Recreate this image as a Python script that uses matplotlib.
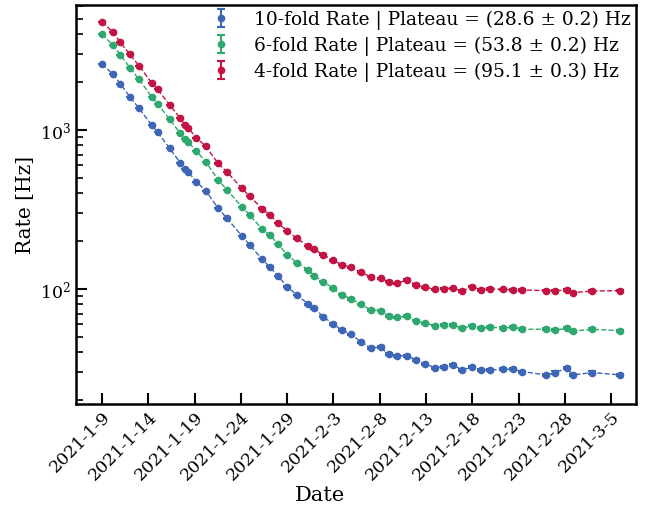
import datetime as dt
import numpy as np
import matplotlib
matplotlib.use("Agg")
import matplotlib.pyplot as plt
import matplotlib.dates as mdates
from matplotlib.ticker import FuncFormatter

plt.rcParams['font.family'] = 'DejaVu Serif'
plt.rcParams['mathtext.fontset'] = 'dejavuserif'

# days since 2021-1-9 for each measurement
days = [0.0, 1.2, 2.0, 3.0, 4.0, 5.35, 6.0, 7.3, 8.45, 8.95, 9.3, 10.2, 11.2,
        12.55, 13.5, 15.1, 15.95, 17.3, 18.1, 19.0, 20.0, 21.05, 22.3, 22.9,
        23.9, 24.95, 25.9, 26.9, 28.0, 29.0, 30.1, 30.95, 31.85, 32.95, 33.95,
        34.9, 36.0, 36.9, 37.9, 38.9, 40.0, 40.95, 41.95, 43.3, 44.4, 45.4,
        47.95, 48.95, 50.2, 50.9, 52.9, 55.95]

rate_10 = [2601, 2240, 1947, 1620, 1369, 1075, 971, 767, 623, 568, 544, 473,
           415, 322, 278, 216, 189, 154, 138, 120.7, 103.4, 91.7, 80.1, 75.6,
           66.9, 60.2, 55.2, 51.9, 46.2, 42.7, 43.0, 38.8, 38.1, 37.9, 35.8,
           33.7, 32.0, 32.4, 33.3, 30.9, 32.4, 30.9, 30.9, 31.3, 31.3, 30.2,
           28.8, 29.8, 31.7, 28.8, 29.8, 28.8]

rate_6 = [3999, 3410, 2963, 2465, 2084, 1620, 1464, 1168, 953, 874, 841, 738,
          632, 485, 420, 329, 292, 238, 219, 192, 164, 146, 132, 120.7, 111.2,
          101, 92.1, 86.5, 80.1, 73.8, 73.0, 67.6, 66.4, 67.6, 63.2, 60.8,
          58.8, 59.6, 59.6, 56.6, 58.8, 57.1, 57.4, 56.9, 57.4, 55.8, 55.8,
          55.2, 56.6, 54.4, 55.8, 54.7]

rate_4 = [4797, 4117, 3561, 2993, 2538, 1984, 1803, 1443, 1185, 1075, 1029,
          894, 790, 616, 544, 430, 383, 320, 293, 260, 232, 208, 186, 178, 164,
          152, 142, 137, 127, 119.5, 116.8, 111.2, 108.6, 113.9, 106, 102.5,
          99.6, 100.4, 101, 97.1, 103.4, 98.6, 100, 99.6, 98.6, 98.6, 97.6,
          97.6, 98.6, 94.8, 97.1, 97.6]

labels = ['10-fold Rate | Plateau = (28.6 ± 0.2) Hz',
          '6-fold Rate | Plateau = (53.8 ± 0.2) Hz',
          '4-fold Rate | Plateau = (95.1 ± 0.3) Hz']
colors = ['#3e66b6', '#2fa86f', '#c21342']
errs = [0.5, 0.7, 1.0]  # Hz, too small to see

start = dt.datetime(2021, 1, 9)
t = [start + dt.timedelta(days=d) for d in days]

fig = plt.figure(figsize=(6.47, 5.14), dpi=100)
ax = fig.add_axes([0.1175, 0.214, 0.866, 0.776])

for rate, lab, c, e in zip([rate_10, rate_6, rate_4], labels, colors, errs):
    ax.plot(t, rate, '--', color=c, lw=1.0)
    ax.errorbar(t, rate, yerr=e, fmt='o', color=c, ms=4.5, capsize=3,
                elinewidth=1.5, capthick=1.5, label=lab)

ax.set_yscale('log')
ax.set_ylim(18.9, 6100)
ax.set_xlim(start - dt.timedelta(days=2.8), start + dt.timedelta(days=57.7))

ticks = [start + dt.timedelta(days=5 * i) for i in range(12)]
ax.set_xticks(ticks)
ax.xaxis.set_major_formatter(FuncFormatter(
    lambda v, p: '{0.year}-{0.month}-{0.day}'.format(mdates.num2date(v))))
plt.setp(ax.get_xticklabels(), rotation=45, ha='right', rotation_mode='anchor')

ax.tick_params(which='major', direction='in', length=8, width=1.5, labelsize=12.5)
ax.tick_params(which='minor', direction='in', length=5, width=1.2)
for s in ax.spines.values():
    s.set_linewidth(1.8)

ax.set_xlabel('Date', fontsize=15)
ax.xaxis.set_label_coords(0.436, -0.205)
ax.set_ylabel('Rate [Hz]', fontsize=14.5)
ax.legend(loc='upper right', fontsize=13.4, frameon=False, borderaxespad=0.08,
          borderpad=0.2, handletextpad=0.8, labelspacing=0.36)

fig.savefig('out.png', dpi=100)
